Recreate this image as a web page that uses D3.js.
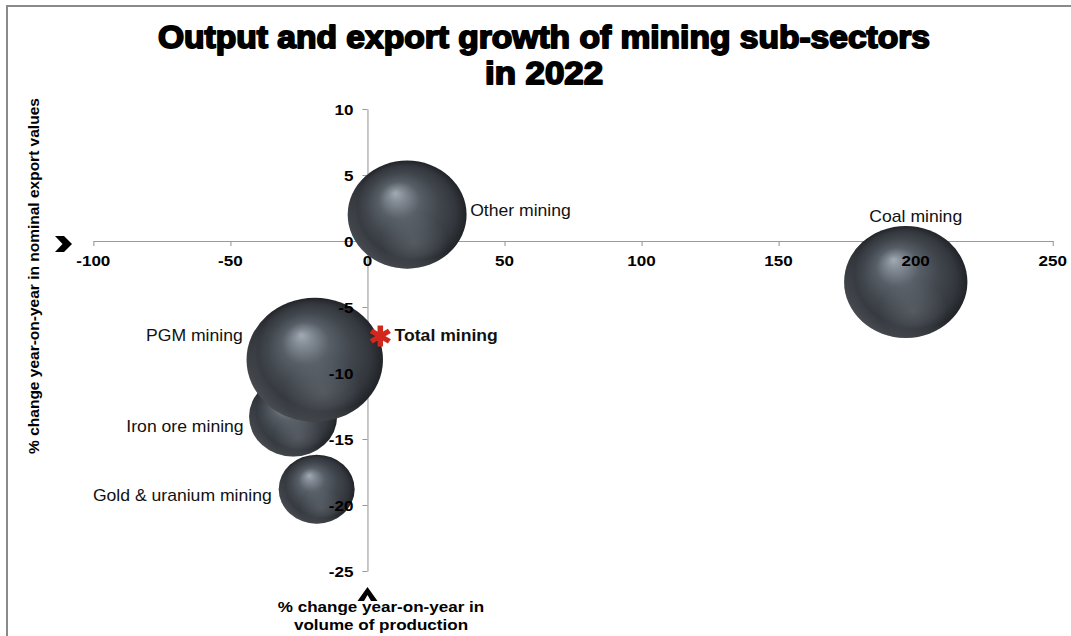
<!DOCTYPE html>
<html><head><meta charset="utf-8">
<script src="https://cdn.jsdelivr.net/npm/d3@7"></script>
<style>html,body{margin:0;padding:0;background:#fff;overflow:hidden}</style>
</head><body>
<svg id="chart"></svg>
<script>
// ---------- data ----------
const categories   = ["Other mining", "Coal mining", "Iron ore mining", "PGM mining", "Gold & uranium mining"];
const outputGrowth = [14.5, 196.4, -27.1, -19.2, -18.5];   // % y/y volume of production
const exportGrowth = [2.0, -3.1, -13.3, -9.0, -18.8];      // % y/y nominal export values
const bubbleSize   = [22.8, 24.5, 12.5, 30, 9.3];          // relative bubble size
const totalName    = ["Total mining"];
const totalOutput  = [4.7];
const totalExport  = [-7.2];
const xTicks = [-100, -50, 0, 50, 100, 150, 200, 250];
const yTicks = [10, 5, 0, -5, -10, -15, -20, -25];
const titleLines  = ["Output and export growth of mining sub-sectors", "in 2022"];
const xTitleLines = ["% change year-on-year in", "volume of production"];
const yTitle      = "% change year-on-year in nominal export values";

// ---------- layout (label placement, px from bubble centre) ----------
const labelAnchor = ["start", "middle", "end", "end", "end"];
const labelDx     = [63, 10, -49.5, -72, -45];
const labelDy     = [1, -60, 15, -19, 11.7];

const SX = 1.1;                 // horizontal stretch of the original picture
const W = 1071 / SX, H = 636;
const X = px => px / SX;

const svg = d3.select("#chart")
  .attr("width", 1071).attr("height", 636)
  .attr("viewBox", `0 0 ${W} ${H}`)
  .attr("preserveAspectRatio", "none");

const FONT = "'Liberation Sans', Arial, Helvetica, sans-serif";

const defs = svg.append("defs");
const g1 = defs.append("radialGradient").attr("id", "sph")
  .attr("cx", 0.5).attr("cy", 0.5).attr("r", 0.5).attr("fx", 0.4).attr("fy", 0.3);
[[0, "#a2aab3"], [0.12, "#858d96"], [0.35, "#575e66"], [0.62, "#41464d"], [0.85, "#33373d"], [1, "#202327"]]
  .forEach(([o, c]) => g1.append("stop").attr("offset", o).attr("stop-color", c));
const g2 = defs.append("radialGradient").attr("id", "glow")
  .attr("cx", 0.56).attr("cy", 0.76).attr("r", 0.28);
g2.append("stop").attr("offset", 0).attr("stop-color", "#8c939c").attr("stop-opacity", 0.3);
g2.append("stop").attr("offset", 1).attr("stop-color", "#8c939c").attr("stop-opacity", 0);
const g3 = defs.append("radialGradient").attr("id", "rim")
  .attr("cx", 0.58).attr("cy", 0.42).attr("r", 0.62);
g3.append("stop").attr("offset", 0.8).attr("stop-color", "#9aa0a8").attr("stop-opacity", 0);
g3.append("stop").attr("offset", 1).attr("stop-color", "#9aa0a8").attr("stop-opacity", 0.35);

// ---------- frame ----------
svg.append("line").attr("x1", X(6)).attr("x2", W).attr("y1", 6).attr("y2", 6)
  .attr("stroke", "#8a8a8a").attr("stroke-width", 2);
svg.append("line").attr("x1", X(7)).attr("x2", X(7)).attr("y1", 5).attr("y2", H)
  .attr("stroke", "#8a8a8a").attr("stroke-width", 2 / SX);

// ---------- scales ----------
const x = d3.scaleLinear().domain([-100, 250]).range([X(93.3), X(1052.7)]);
const y = d3.scaleLinear().domain([-25, 10]).range([571, 109]);
const r = d3.scaleSqrt().domain([0, 30]).range([0, 62]);

// ---------- axes (lines) ----------
const axCol = "#9a9a9a";
const xAxisG = svg.append("g").attr("transform", `translate(0,${y(0)})`)
  .call(d3.axisBottom(x).tickValues(xTicks).tickSize(5).tickSizeOuter(0).tickFormat(""));
const yAxisG = svg.append("g").attr("transform", `translate(${x(0)},0)`)
  .call(d3.axisLeft(y).tickValues(yTicks).tickSize(5 / SX).tickSizeOuter(0).tickFormat(""));
[xAxisG, yAxisG].forEach(g => {
  g.selectAll("path,line").attr("stroke", axCol).attr("stroke-width", 1);
  g.selectAll("text").remove();
});

// ---------- bubbles ----------
const data = categories.map((c, i) => ({ c, x: outputGrowth[i], y: exportGrowth[i], s: bubbleSize[i], i }));
const bub = svg.append("g").selectAll("g").data(data).join("g");
["sph", "glow", "rim"].forEach(id => {
  bub.append("circle")
    .attr("cx", d => x(d.x)).attr("cy", d => y(d.y)).attr("r", d => r(d.s))
    .attr("fill", `url(#${id})`);
});

// ---------- tick labels (on top) ----------
svg.append("g").selectAll("text").data(xTicks).join("text")
  .attr("x", d => x(d)).attr("y", y(0) + 25)
  .attr("text-anchor", "middle")
  .attr("font-family", FONT).attr("font-weight", "bold").attr("font-size", 15.5).attr("fill", "#000")
  .text(d => d);
svg.append("g").selectAll("text").data(yTicks).join("text")
  .attr("x", x(0) - X(14)).attr("y", d => y(d)).attr("dy", "0.36em")
  .attr("text-anchor", "end")
  .attr("font-family", FONT).attr("font-weight", "bold").attr("font-size", 15.5).attr("fill", "#000")
  .text(d => d);

// ---------- bubble labels ----------
svg.append("g").selectAll("text").data(data).join("text")
  .attr("x", d => x(d.x) + X(labelDx[d.i])).attr("y", d => y(d.y) + labelDy[d.i])
  .attr("text-anchor", d => labelAnchor[d.i])
  .attr("font-family", FONT).attr("font-size", 16).attr("fill", "#111")
  .text(d => d.c);

// ---------- total mining star ----------
const tot = totalName.map((n, i) => ({ n, x: totalOutput[i], y: totalExport[i] }));
const starG = svg.append("g").selectAll("g").data(tot).join("g")
  .attr("transform", d => `translate(${x(d.x)},${y(d.y)})`);
[90, 30, -30].forEach(a => {
  const rad = a * Math.PI / 180, L = 10.5;
  starG.append("line")
    .attr("x1", -L * Math.cos(rad) / SX).attr("y1", -L * Math.sin(rad))
    .attr("x2", L * Math.cos(rad) / SX).attr("y2", L * Math.sin(rad))
    .attr("stroke", "#d1281e").attr("stroke-width", 5);
});
svg.append("g").selectAll("text").data(tot).join("text")
  .attr("x", d => x(d.x) + X(14.3)).attr("y", d => y(d.y) + 5)
  .attr("font-family", FONT).attr("font-weight", "bold").attr("font-size", 16).attr("fill", "#111")
  .text(d => d.n);

// ---------- title ----------
const titleLen = [X(772), X(118)];
svg.append("g").selectAll("text").data(titleLines).join("text")
  .attr("x", X(544)).attr("y", (d, i) => 48 + i * 36.5)
  .attr("text-anchor", "middle")
  .attr("font-family", FONT).attr("font-weight", "bold").attr("font-size", 31)
  .attr("fill", "#000").attr("stroke", "#000").attr("stroke-width", 1.8).attr("stroke-linejoin", "round")
  .attr("textLength", (d, i) => titleLen[i]).attr("lengthAdjust", "spacingAndGlyphs")
  .text(d => d);

// ---------- axis titles ----------
svg.append("g").selectAll("text").data(xTitleLines).join("text")
  .attr("x", X(381)).attr("y", (d, i) => 612 + i * 18.5)
  .attr("text-anchor", "middle")
  .attr("font-family", FONT).attr("font-weight", "bold").attr("font-size", 15.5).attr("fill", "#000")
  .text(d => d);
svg.append("text")
  .attr("transform", `translate(${X(38.5)},276) scale(${1 / SX},1) rotate(-90)`)
  .attr("text-anchor", "middle")
  .attr("font-family", FONT).attr("font-weight", "bold").attr("font-size", 15.5).attr("fill", "#000")
  .text(yTitle);

// ---------- arrow chevrons ----------
const chevR = "M0,0 L9,0 L17,8 L9,16 L0,16 L7.5,8 Z";
svg.append("path").attr("d", chevR)
  .attr("transform", `translate(${X(55)},236) scale(${1 / SX},1)`).attr("fill", "#000");
const chevU = "M0,17 L10,3 L20,17 L13.5,17 L10,11 L6.5,17 Z";
svg.append("path").attr("d", chevU)
  .attr("transform", `translate(${X(357.5)},584) scale(${1 / SX},1)`).attr("fill", "#000");
</script>
</body></html>
